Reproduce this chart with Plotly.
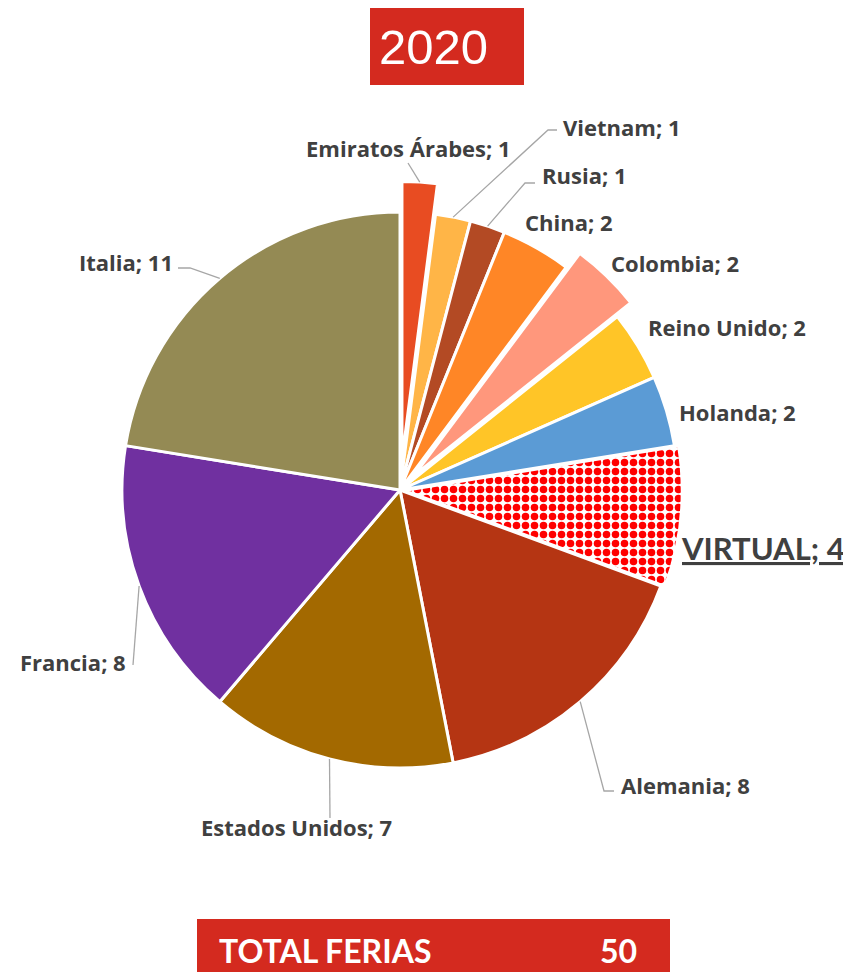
import math
import plotly.graph_objects as go

# ---------------- data ----------------
countries = ["Emiratos Árabes", "Vietnam", "Rusia", "China", "Colombia",
             "Reino Unido", "Holanda", "VIRTUAL", "Alemania",
             "Estados Unidos", "Francia", "Italia"]
ferias = [1, 1, 1, 2, 2, 2, 2, 4, 8, 7, 8, 11]
year_label = "2020"
total_label = "TOTAL FERIAS"
total_value = 50

# ---------------- styles ----------------
colors = ["#E84C22", "#FFB547", "#B34A24", "#FF8626", "#FF977C",
          "#FFC527", "#5B9BD5", "#FFFFFF", "#B53513",
          "#A36900", "#7030A0", "#948A54"]
pulls = [0.11, 0, 0, 0, 0.07, 0, 0, 0.015, 0, 0, 0, 0]
pattern_shapes = ["", "", "", "", "", "", "", ".", "", "", "", ""]

OFF = 8                    # page body margin, px
W, H = 851 - OFF, 980 - 2 * OFF
CX, CY = 400, 490          # pie centre (window px)
R = 278                    # pie radius, px
RED = "#D42A1F"
TXT = "#404040"
LEADER = "#A6A6A6"
LABEL_FONT = "Open Sans"

# label placement (window px): (x, y, xanchor, [leader points from label side])
label_style = {
    "Emiratos Árabes": (408, 148, "center", [(408, 163)]),
    "Vietnam":         (561, 127, "left",   [(557, 130), (548, 130)]),
    "Rusia":           (540, 175, "left",   [(535, 183), (525, 183)]),
    "China":           (523, 222, "left",   []),
    "Colombia":        (609, 263, "left",   []),
    "Reino Unido":     (646, 327, "left",   []),
    "Holanda":         (677, 412, "left",   []),
    "VIRTUAL":         (679, 548, "left",   []),
    "Alemania":        (619, 785, "left",   [(614, 791), (604, 791)]),
    "Estados Unidos":  (296, 827, "center", [(330, 818)]),
    "Francia":         (128, 662, "right",  [(133, 665)]),
    "Italia":          (175, 262, "right",  [(178, 268), (190, 268)]),
}


def px(x):
    return (x - OFF) / W


def py(y):
    return 1 - (y - OFF) / H


max_pull = max(pulls)
half = R * (1 + max_pull)
dom_x = [px(CX - half), px(CX + half)]
dom_y = [py(CY + half), py(CY - half)]

fig = go.Figure()
fig.add_trace(go.Pie(
    labels=countries,
    values=ferias,
    sort=False,
    direction="clockwise",
    rotation=0,
    pull=pulls,
    textinfo="none",
    hoverinfo="label+value",
    showlegend=False,
    domain=dict(x=dom_x, y=dom_y),
    marker=dict(
        colors=colors,
        line=dict(color="white", width=3),
        pattern=dict(shape=pattern_shapes, fgcolor="#FF0000",
                     bgcolor="#FFFFFF", size=9, solidity=0.55,
                     fillmode="replace"),
    ),
))

total = sum(ferias)
shapes = []
annotations = []
cum = 0
for name, val, pull in zip(countries, ferias, pulls):
    mid = (cum + val / 2) / total * 2 * math.pi
    cum += val
    rr = R * (1 + pull)
    ax_ = CX + rr * math.sin(mid)
    ay_ = CY - rr * math.cos(mid)
    lx, ly, xa, elbows = label_style[name]
    pts = [(ax_, ay_)] + list(reversed(elbows))
    if len(pts) > 1:
        path = "M " + " L ".join(f"{px(x):.5f},{py(y):.5f}" for x, y in pts)
        shapes.append(dict(type="path", xref="paper", yref="paper", path=path,
                           line=dict(color=LEADER, width=1.3)))
    if name == "VIRTUAL":
        font = dict(family="Lato", size=31, color=TXT, weight="bold",
                    lineposition="under")
    else:
        font = dict(family=LABEL_FONT, size=22, color=TXT, weight="bold")
    annotations.append(dict(x=px(lx), y=py(ly), xref="paper", yref="paper",
                            text=f"{name}; {val}", showarrow=False,
                            xanchor=xa, yanchor="middle", font=font))

# title box
shapes.append(dict(type="rect", xref="paper", yref="paper",
                   x0=px(370), x1=px(524), y0=py(85), y1=py(8),
                   fillcolor=RED, line=dict(width=0), layer="below"))
annotations.append(dict(x=px(433), y=py(47), xref="paper", yref="paper",
                        text=year_label, showarrow=False, xanchor="center",
                        yanchor="middle",
                        font=dict(family="Liberation Sans", size=49,
                                  color="white")))
# total box
shapes.append(dict(type="rect", xref="paper", yref="paper",
                   x0=px(197), x1=px(670), y0=py(985), y1=py(919),
                   fillcolor=RED, line=dict(width=0), layer="below"))
annotations.append(dict(x=px(217), y=py(950), xref="paper", yref="paper",
                        text=total_label, showarrow=False, xanchor="left",
                        yanchor="middle",
                        font=dict(family="Lato", size=32, color="white",
                                  weight="bold")))
annotations.append(dict(x=px(639), y=py(950), xref="paper", yref="paper",
                        text=str(total_value), showarrow=False,
                        xanchor="right", yanchor="middle",
                        font=dict(family="Lato", size=32, color="white",
                                  weight="bold")))

fig.update_layout(
    width=W, height=H,
    margin=dict(l=0, r=0, t=0, b=0),
    paper_bgcolor="white",
    plot_bgcolor="white",
    shapes=shapes,
    annotations=annotations,
)

fig.write_html("out.html")
